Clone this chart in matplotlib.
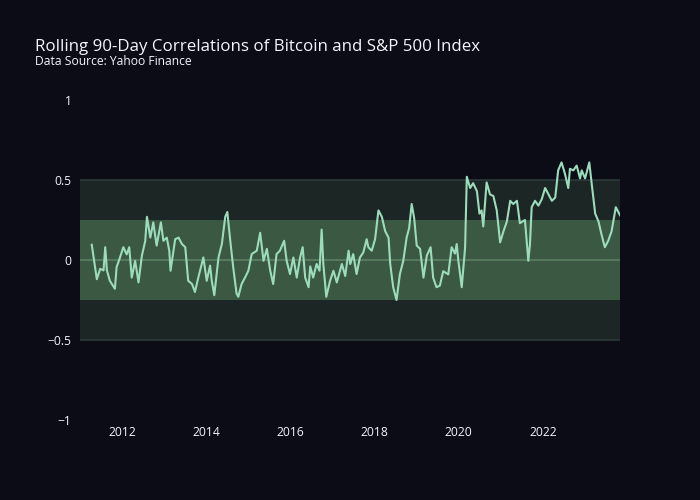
import matplotlib
matplotlib.use("Agg")
import matplotlib.pyplot as plt
import pandas as pd
import numpy as np

# Decimal-year positions and rolling 90-day correlation values
years = [
    2011.28, 2011.40, 2011.48, 2011.56, 2011.60, 2011.64, 2011.71, 2011.83, 2011.87, 2011.95,
    2012.03, 2012.11, 2012.17, 2012.23, 2012.31, 2012.39, 2012.47, 2012.55, 2012.59, 2012.67,
    2012.74, 2012.82, 2012.92, 2012.98, 2013.06, 2013.12, 2013.15, 2013.26, 2013.34, 2013.42,
    2013.50, 2013.57, 2013.66, 2013.73, 2013.81, 2013.93, 2014.01, 2014.09, 2014.13, 2014.19,
    2014.29, 2014.37, 2014.45, 2014.50, 2014.57, 2014.64, 2014.72, 2014.76, 2014.84, 2014.92,
    2015.00, 2015.08, 2015.20, 2015.28, 2015.36, 2015.44, 2015.52, 2015.59, 2015.67, 2015.75,
    2015.85, 2015.91, 2015.99, 2016.07, 2016.15, 2016.23, 2016.29, 2016.35, 2016.43, 2016.47,
    2016.54, 2016.62, 2016.69, 2016.74, 2016.78, 2016.85, 2016.94, 2017.02, 2017.10, 2017.22,
    2017.30, 2017.38, 2017.42, 2017.49, 2017.57, 2017.65, 2017.73, 2017.81, 2017.85, 2017.93,
    2018.01, 2018.09, 2018.17, 2018.25, 2018.33, 2018.37, 2018.44, 2018.52, 2018.60, 2018.68,
    2018.76, 2018.82, 2018.88, 2018.94, 2019.00, 2019.08, 2019.16, 2019.24, 2019.33, 2019.39,
    2019.47, 2019.55, 2019.63, 2019.75, 2019.83, 2019.91, 2019.95, 2019.99, 2020.07, 2020.15,
    2020.19, 2020.27, 2020.34, 2020.43, 2020.49, 2020.54, 2020.58, 2020.66, 2020.74, 2020.82,
    2020.90, 2020.98, 2021.06, 2021.14, 2021.22, 2021.29, 2021.38, 2021.45, 2021.57, 2021.65,
    2021.69, 2021.73, 2021.81, 2021.89, 2021.97, 2022.05, 2022.13, 2022.21, 2022.29, 2022.36,
    2022.44, 2022.52, 2022.60, 2022.64, 2022.72, 2022.80, 2022.88, 2022.92, 2023.00, 2023.10,
    2023.16, 2023.24, 2023.32, 2023.39, 2023.47, 2023.55, 2023.63, 2023.67, 2023.73, 2023.83,
]
correlation = [
    0.095, -0.12, -0.055, -0.065, 0.08, -0.065, -0.13, -0.18, -0.045, 0.015,
    0.08, 0.035, 0.08, -0.11, -0.005, -0.14, 0.027, 0.12, 0.27, 0.14,
    0.235, 0.09, 0.235, 0.12, 0.14, 0.058, -0.067, 0.13, 0.14, 0.10,
    0.08, -0.13, -0.15, -0.20, -0.11, 0.016, -0.13, -0.035, -0.13, -0.22,
    0.016, 0.10, 0.27, 0.30, 0.12, -0.046, -0.21, -0.23, -0.15, -0.11,
    -0.067, 0.037, 0.058, 0.17, -0.005, 0.07, -0.067, -0.15, 0.037, 0.058,
    0.12, -0.005, -0.088, 0.016, -0.11, 0.016, 0.08, -0.11, -0.17, -0.04,
    -0.11, -0.025, -0.067, 0.19, -0.025, -0.23, -0.13, -0.067, -0.14, -0.025,
    -0.10, 0.058, -0.025, 0.037, -0.088, 0.016, 0.047, 0.13, 0.08, 0.058,
    0.13, 0.31, 0.27, 0.18, 0.14, -0.025, -0.17, -0.25, -0.088, -0.005,
    0.14, 0.20, 0.35, 0.26, 0.09, 0.07, -0.11, 0.027, 0.08, -0.11,
    -0.17, -0.16, -0.07, -0.09, 0.08, 0.04, 0.10, -0.005, -0.17, 0.08,
    0.52, 0.45, 0.48, 0.43, 0.29, 0.31, 0.21, 0.485, 0.41, 0.40,
    0.31, 0.11, 0.18, 0.24, 0.37, 0.35, 0.37, 0.23, 0.25, -0.005,
    0.10, 0.33, 0.37, 0.34, 0.38, 0.45, 0.41, 0.37, 0.39, 0.56,
    0.61, 0.54, 0.45, 0.57, 0.56, 0.59, 0.51, 0.56, 0.51, 0.61,
    0.47, 0.29, 0.24, 0.16, 0.08, 0.12, 0.18, 0.24, 0.33, 0.28,
]
y_ticks = [-1, -0.5, 0, 0.5, 1]
y_tick_labels = ["\u22121", "\u22120.5", "0", "0.5", "1"]
x_tick_years = [2012, 2014, 2016, 2018, 2020, 2022]
title = "Rolling 90-Day Correlations of Bitcoin and S&P 500 Index"
subtitle = "Data Source: Yahoo Finance"


def to_date(y):
    yr = int(np.floor(y))
    start = pd.Timestamp(year=yr, month=1, day=1)
    end = pd.Timestamp(year=yr + 1, month=1, day=1)
    return start + (end - start) * (y - yr)


dates = [to_date(y) for y in years]

BG = "#0b0c15"
TEXT = "#f2f5fa"

plt.rcParams["font.family"] = ["Open Sans", "DejaVu Sans"]

fig = plt.figure(figsize=(7, 5), dpi=100, facecolor=BG)
ax = fig.add_axes([80 / 700, 80 / 500, 540 / 700, 320 / 500])
ax.set_facecolor(BG)

x0 = to_date(2011.0)
x1 = to_date(2023.83)

# Bands
ax.axhspan(-0.5, 0.5, color="#1c2624", zorder=1, lw=0)
ax.axhline(0.5, color="#2b3a3c", lw=1.2, zorder=1.5)
ax.axhline(-0.5, color="#2b3a3c", lw=1.2, zorder=1.5)
ax.axhspan(-0.25, 0.25, color="#3a5842", zorder=2, lw=0)
ax.axhline(0, color="#56785c", lw=1.5, zorder=2.5)

ax.plot(dates, correlation, color="#9cdcbc", lw=1.5, zorder=3, solid_joinstyle="round")

ax.set_xlim(x0, x1)
ax.set_ylim(-1, 1)
ax.set_yticks(y_ticks)
ax.set_yticklabels(y_tick_labels)
ax.set_xticks([to_date(y) for y in x_tick_years])
ax.set_xticklabels([str(y) for y in x_tick_years])
ax.tick_params(axis="both", length=0, colors=TEXT, labelsize=8.7)
ax.tick_params(axis="y", pad=6)
ax.tick_params(axis="x", pad=4)
for s in ax.spines.values():
    s.set_visible(False)

fig.text(35 / 700, 1 - 51 / 500, title, color=TEXT, fontsize=12.15, va="baseline", ha="left")
fig.text(35 / 700, 1 - 65 / 500, subtitle, color=TEXT, fontsize=8.7, va="baseline", ha="left")

fig.savefig("out.png", dpi=100, facecolor=BG)
